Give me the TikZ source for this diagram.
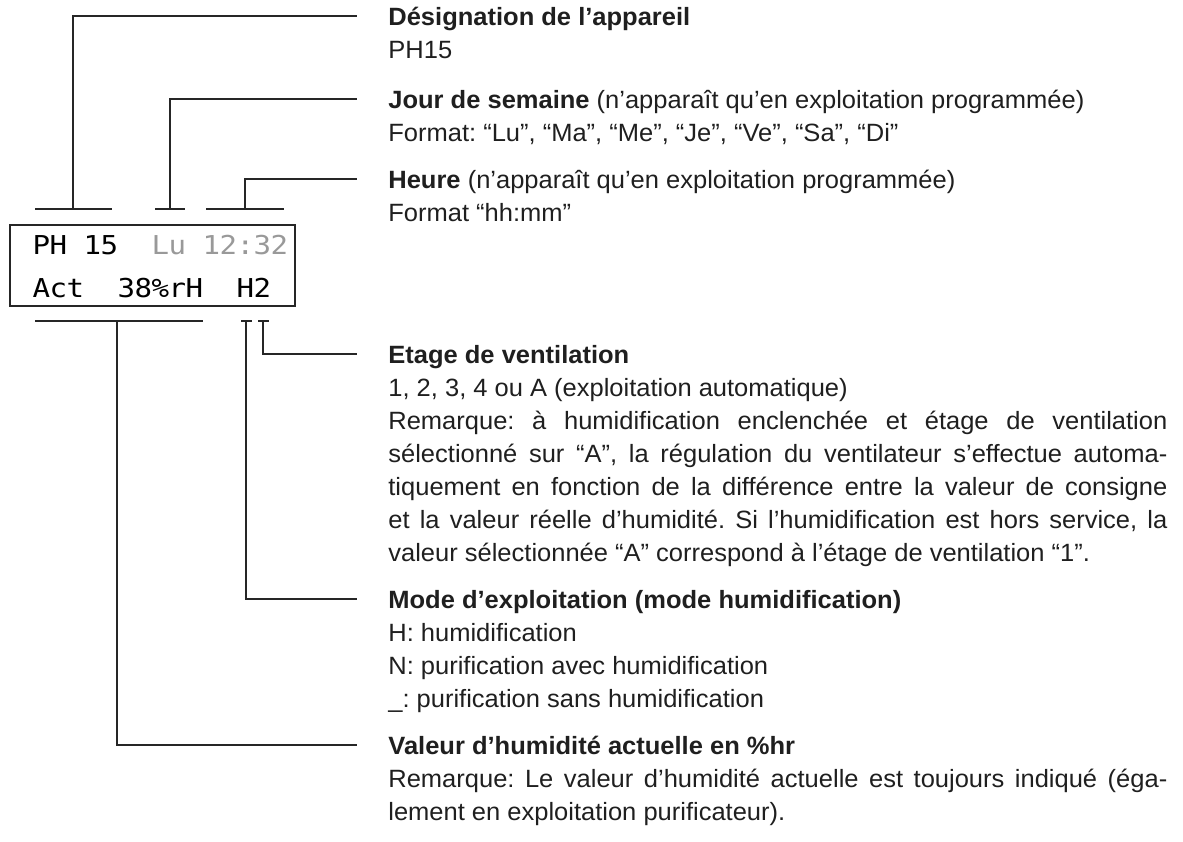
\documentclass[tikz,border=0pt]{standalone}
\usepackage{fontspec}
\setmainfont{Liberation Sans}[FakeStretch=1.02]
\newfontfamily\lcdfont{DejaVu Sans Mono}[FakeStretch=1.12]
\newcommand\notefont{\fontsize{12.5}{16.5}\selectfont\frenchspacing}
\begin{document}
\begin{tikzpicture}[x=0.5pt, y=-0.5pt,
	lead/.style={line width=0.75pt, black!85},
	lcd/.style={anchor=base, inner sep=0pt, font=\lcdfont\fontsize{13}{13}\selectfont},
	lcdoff/.style={lcd, text=black!40},
	note/.style={anchor=north west, inner sep=0pt, text width=389.5pt, align=justify, font=\notefont, text=black!88}]
	
	\useasboundingbox (0,0) rectangle (1183,841);
	
	% Anzeige
	\node[draw, line width=0.75pt, black!85, minimum width=142.5pt, minimum height=40.5pt, inner sep=0pt] (disp) at (152.5,265.5) {};
	\foreach \ch/\i in {P/0, H/1, 1/3, 5/4}
		\node[lcd] (ra-\i) at ({41.5+17*\i},254) {\ch};
	\foreach \ch/\i in {L/7, u/8, 1/10, 2/11, :/12, 3/13, 2/14}
		\node[lcdoff] (ra-\i) at ({41.5+17*\i},254) {\ch};
	\foreach \ch/\i in {A/0, c/1, t/2, 3/5, 8/6, \%/7, r/8, H/9, H/12, 2/13}
		\node[lcd] (rb-\i) at ({41.5+17*\i},297) {\ch};
	
	% Texte
	\node[note] (desig) at (388,2) {\strut\textbf{Désignation de l’appareil}\\PH15};
	\node[note] (jour) at (388,85) {\strut\textbf{Jour de semaine} (n’apparaît qu’en exploitation programmée)\\Format: “Lu”, “Ma”, “Me”, “Je”, “Ve”, “Sa”, “Di”};
	\node[note] (heure) at (388,165) {\strut\textbf{Heure} (n’apparaît qu’en exploitation programmée)\\Format “hh:mm”};
	\node[note] (etage) at (388,340) {\strut\textbf{Etage de ventilation}\\
		1, 2, 3, 4 ou A (exploitation automatique)\\
		Remarque: à humidification enclenchée et étage de ventilation\linebreak
		sélectionné sur “A”, la régulation du ventilateur s’effectue automa-\linebreak
		tiquement en fonction de la différence entre la valeur de consigne\linebreak
		et la valeur réelle d’humidité. Si l’humidification est hors service, la\linebreak
		valeur sélectionnée “A” correspond à l’étage de ventilation “1”.};
	\node[note] (mode) at (388,585) {\strut\textbf{Mode d’exploitation (mode humidification)}\\
		H: humidification\\
		N: purification avec humidification\\
		\_: purification sans humidification};
	\node[note] (valeur) at (388,731) {\strut\textbf{Valeur d’humidité actuelle en \%hr}\\
		Remarque: Le valeur d’humidité actuelle est toujours indiqué (éga-\linebreak
		lement en exploitation purificateur).};
	
	% Klammern oben
	\draw[lead] (35,209) -- (112,209);
	\draw[lead] (155,209) -- (185,209);
	\draw[lead] (206,209) -- (284,209);
	\coordinate (ka) at (73,209);
	\coordinate (kb) at (170,209);
	\coordinate (kc) at (245,209);
	
	% Klammern unten
	\draw[lead] (35,321) -- (203,321);
	\draw[lead] (241,321) -- (252,321);
	\draw[lead] (258,321) -- (269,321);
	\coordinate (kd) at (117,321);
	\coordinate (ke) at (246,321);
	\coordinate (kf) at (263,321);
	
	% Hinweislinien
	\draw[lead] (ka) |- ([xshift=-15.5pt, yshift=-7.1pt]desig.north west);
	\draw[lead] (kb) |- ([xshift=-15.5pt, yshift=-7.1pt]jour.north west);
	\draw[lead] (kc) |- ([xshift=-15.5pt, yshift=-7.1pt]heure.north west);
	\draw[lead] (kf) |- ([xshift=-15.5pt, yshift=-7.1pt]etage.north west);
	\draw[lead] (ke) |- ([xshift=-15.5pt, yshift=-7.1pt]mode.north west);
	\draw[lead] (kd) |- ([xshift=-15.5pt, yshift=-7.1pt]valeur.north west);
\end{tikzpicture}
\end{document}
